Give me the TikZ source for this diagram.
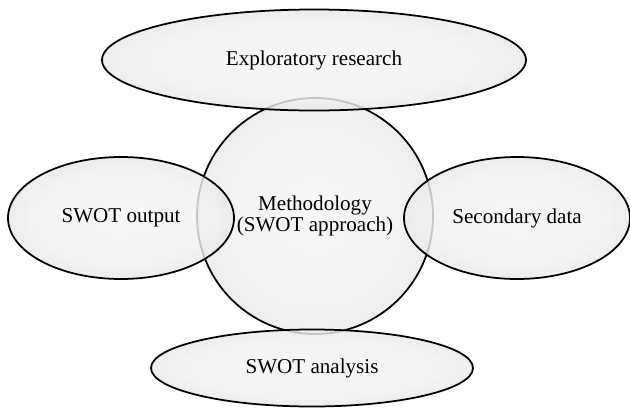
\documentclass[tikz,border=0pt]{standalone}
\usepackage{fontspec}
\setmainfont{Liberation Serif}
\usetikzlibrary{shapes.geometric}

\pgfdeclareradialshading{glass}{\pgfpoint{0bp}{0bp}}{%
  color(0bp)=(white!96!black);
  color(20bp)=(white!94!black);
  color(34bp)=(white!86!black);
  color(42bp)=(white!74!black);
  color(47bp)=(white!52!black);
  color(50bp)=(white!30!black)}

\begin{document}
\begin{tikzpicture}[
    x=0.3mm, y=-0.3mm,
    % Define bubble style
    bubble/.style={
        draw, % Draw border
        ellipse, % Ellipse shape
        line width=1.5pt, % Border thickness
        shading=glass, % Glassy shading
        fill opacity=0.82, % See overlaps
        text opacity=1,
        inner sep=0pt,
        align=center, % Center alignment
        font=\fontsize{18}{18}\selectfont
      }
  ]
  \useasboundingbox (0,0) rectangle (630,411);

  % Centre bubble
  \node[bubble, minimum width=236*0.3mm, minimum height=236*0.3mm] (Method) at (315,216) {Methodology\\(SWOT approach)};

  % Outer bubbles
  \node[bubble, minimum width=424*0.3mm, minimum height=101*0.3mm] (Explore) at (314,60) {Exploratory research}; % top
  \node[bubble, minimum width=226*0.3mm, minimum height=122*0.3mm] (Output) at (121,218) {SWOT output}; % left
  \node[bubble, minimum width=226*0.3mm, minimum height=122*0.3mm] (Secondary) at (517,218) {Secondary data}; % right
  \node[bubble, minimum width=322*0.3mm, minimum height=77*0.3mm] (Analysis) at (312,368) {SWOT analysis}; % bottom

\end{tikzpicture}
\end{document}
